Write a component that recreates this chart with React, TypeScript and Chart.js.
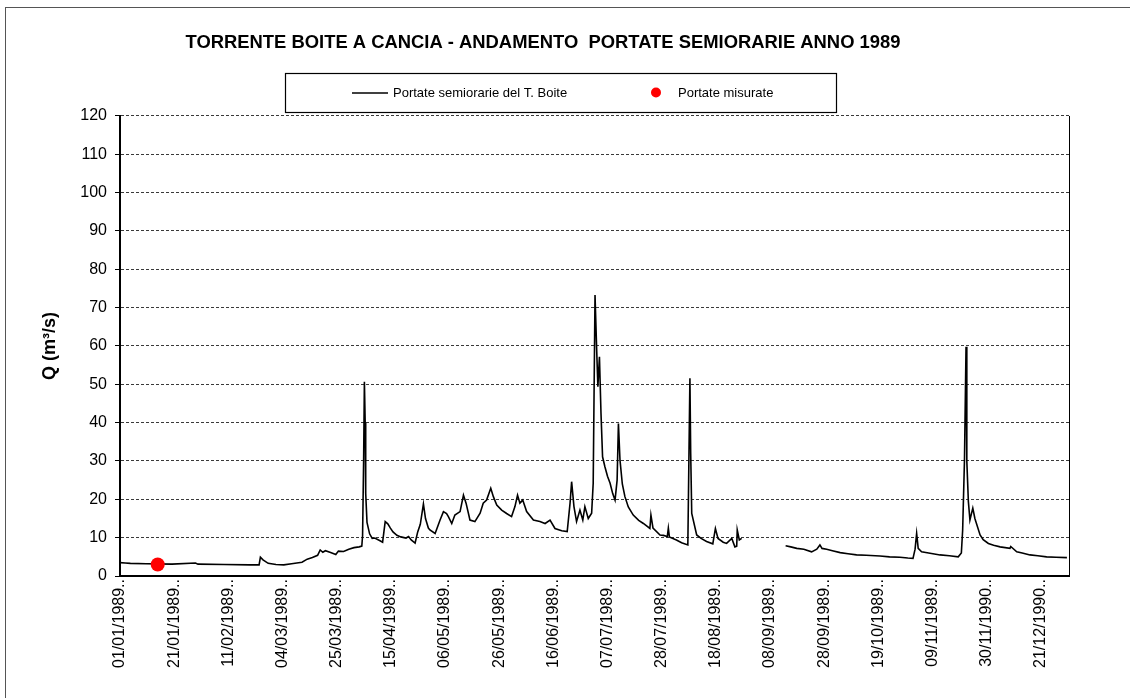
import React, { useEffect, useRef } from "react";
import { Chart, registerables } from "chart.js";

Chart.register(...registerables);

const FONT_FAMILY = "'Liberation Sans', Arial, Helvetica, sans-serif";

const CHART_TITLE = "TORRENTE BOITE A CANCIA - ANDAMENTO  PORTATE SEMIORARIE ANNO 1989";
const Y_AXIS_TITLE = "Q (m³/s)";
const FLOW_LABEL = "Portate semiorarie del T. Boite";
const MEASURED_LABEL = "Portate misurate";

// category labels shown every 1000 half-hourly readings (= 20.83 days)
const X_TICK_LABELS = [
  "01/01/1989..", "21/01/1989..", "11/02/1989..", "04/03/1989..", "25/03/1989..",
  "15/04/1989..", "06/05/1989..", "26/05/1989..", "16/06/1989..", "07/07/1989..",
  "28/07/1989..", "18/08/1989..", "08/09/1989..", "28/09/1989..", "19/10/1989..",
  "09/11/1989..", "30/11/1990..", "21/12/1990..",
];
const READINGS_PER_LABEL = 1000;
const READINGS_PER_DAY = 48;
const X_MIN_DAY = 0;
const X_MAX_DAY = 365;

const Y_MIN = 0;
const Y_MAX = 120;
const Y_STEP = 10;

// half-hourly discharge (day of year, m3/s); null = missing data
const flowDays = [
  // winter base flow
  0, 2, 4, 10, 20, 29, 30, 40, 50, 53.5,
  54, 55, 57, 60, 63, 66, 68, 70, 72, 74,
  76, 77, 78, 79, 81, 83, 84, 86, 88, 90,
  92, 93,
  // early April flood and spring
  93.3, 93.7, 94.0, 94.3, 94.5, 95, 96, 97, 98, 100,
  101, 101.5, 102, 103, 104, 105, 106.5, 108, 110, 111,
  112, 113.5, 114.5, 115.5, 116.7, 117.5, 118.6,
  // snowmelt season
  119.2, 121.2, 123.1, 124.4, 125.6, 126.3, 127.6, 128.8, 130.8, 132.1,
  133.1, 134.6, 136.5, 138.5, 139.7, 141, 142.6, 143.6, 144.9, 146.8,
  148.7, 150.6, 151.9, 152.9, 153.8, 154.9, 156.4, 159, 161.5, 163.5,
  165.4, 167.3, 169.9, 172, 173.1, 173.7, 174.6, 175.6, 176.9, 178,
  178.8, 180.1, 181.4, 182,
  // summer floods
  182.7, 183.3, 183.8, 184.4, 185, 185.6, 186.5, 187.5, 188.5, 189.5,
  190.4, 191.2, 191.7, 192.3, 193.2, 194.2, 195.5, 197.4, 199.5, 201.3,
  203.8, 204.2, 205, 207.7, 209, 210.5, 210.9, 211.3, 214, 216,
  218.4, 218.8, 219.2, 219.5, 219.9, 221.8, 223.5, 225.6, 228, 229,
  230, 232, 233.3, 235.3, 236.5, 237.2, 237.4, 238.2, 239.1,
  // missing data
  247,
  // autumn and winter
  256, 258, 260.3, 263, 266, 268, 269.2, 270, 271.8, 274,
  277, 280, 283.3, 287, 292.3, 296, 300, 303, 305, 305.8,
  306.4, 307, 308.3, 311, 315.4, 319, 322.4, 323.6, 324.1, 324.8,
  325.4, 325.7, 326.3, 326.9, 328, 328.8, 330.8, 332, 334, 336,
  338.5, 342.3, 342.6, 344.9, 347, 350, 353, 356.4, 360, 364.2,
];
const flowValues = [
  3.5, 3.4, 3.3, 3.2, 3.1, 3.4, 3.1, 3.0, 2.9, 2.9,
  4.9, 4.2, 3.3, 3.0, 2.9, 3.2, 3.4, 3.6, 4.4, 4.8,
  5.4, 6.8, 6.2, 6.6, 6.1, 5.6, 6.5, 6.4, 7.0, 7.4,
  7.6, 7.8,
  10.5, 30, 50.7, 40, 21.6, 14, 11, 9.8, 9.9, 9.2,
  8.8, 11.5, 14.2, 13.6, 12.5, 11.5, 10.6, 10.2, 9.9, 10.3,
  9.4, 8.6, 11.5, 13.5, 18.8, 15, 12.5,
  12.0, 11.1, 14.6, 16.8, 16.3, 15.5, 13.7, 15.9, 16.8, 21.1,
  19.0, 14.6, 14.2, 16.4, 19.0, 19.8, 22.9, 20.7, 18.5, 17.2,
  16.3, 15.5, 18.1, 21.1, 19.0, 19.8, 16.8, 14.6, 14.2, 13.7,
  14.6, 12.4, 11.8, 11.6, 19.0, 24.6, 18.1, 14.2, 17.2, 14.6,
  18.1, 15.0, 16.4, 24.2,
  73.3, 59.8, 49.4, 57.2, 42.4, 31.1, 28.5, 26, 24.2, 21.5,
  19.8, 25, 39.8, 30.3, 24, 20.7, 18, 15.9, 14.5, 13.7,
  12.4, 15.9, 12.5, 10.7, 10.6, 10.3, 12.5, 10.2, 9.4, 8.7,
  8.1, 30, 51.6, 32, 16.3, 10.7, 9.8, 9.0, 8.4, 12.4,
  9.8, 8.8, 8.5, 9.8, 7.6, 7.8, 12.0, 9.4, 9.8,
  null,
  7.9, 7.6, 7.2, 7.0, 6.3, 7.0, 8.1, 7.2, 7.0, 6.6,
  6.1, 5.8, 5.5, 5.4, 5.2, 5.0, 4.9, 4.7, 4.6, 7,
  11.1, 7.2, 6.3, 6.0, 5.5, 5.3, 5.0, 6.0, 12, 30.3,
  59.8, 30, 19.4, 14.6, 17.7, 15.0, 10.7, 9.5, 8.5, 8.0,
  7.6, 7.2, 7.7, 6.3, 6.0, 5.5, 5.3, 5.0, 4.9, 4.8,
];

// spot discharge measurement
const measuredDays = [14.5];
const measuredValues = [3.0];

const framePlugin = {
  id: "frameAndLegend",
  beforeDraw(chart: any) {
    const ctx = chart.ctx;
    ctx.save();
    ctx.fillStyle = "#ffffff";
    ctx.fillRect(0, 0, chart.width, chart.height);
    ctx.strokeStyle = "#555555";
    ctx.lineWidth = 1;
    ctx.strokeRect(5.5, 7.5, chart.width + 20, chart.height + 20);
    ctx.restore();
  },
  afterDraw(chart: any) {
    const ctx = chart.ctx;
    const area = chart.chartArea;
    ctx.save();
    // right border of the plot area
    ctx.strokeStyle = "#000000";
    ctx.lineWidth = 1;
    ctx.beginPath();
    ctx.moveTo(area.right + 0.5, area.top);
    ctx.lineTo(area.right + 0.5, area.bottom);
    ctx.stroke();

    // legend box
    const boxL = 285, boxT = 73, boxR = 836, boxB = 112;
    ctx.strokeStyle = "#000000";
    ctx.lineWidth = 1.2;
    ctx.strokeRect(boxL + 0.5, boxT + 0.5, boxR - boxL, boxB - boxT);
    const cy = (boxT + boxB) / 2 + 0.5;
    const ds = chart.data.datasets;
    ctx.font = `13px ${FONT_FAMILY}`;
    ctx.textBaseline = "middle";
    ctx.textAlign = "left";
    ctx.fillStyle = "#000000";
    // line sample
    ctx.strokeStyle = ds[0].borderColor;
    ctx.lineWidth = 1.5;
    ctx.beginPath();
    ctx.moveTo(352, cy);
    ctx.lineTo(388, cy);
    ctx.stroke();
    ctx.fillText(ds[0].label, 393, cy);
    // dot sample
    ctx.fillStyle = ds[1].backgroundColor;
    ctx.beginPath();
    ctx.arc(656, cy - 0.5, 5, 0, Math.PI * 2);
    ctx.fill();
    ctx.fillStyle = "#000000";
    ctx.fillText(ds[1].label, 678, cy);
    ctx.restore();
  },
};

export default function App() {
  const canvasRef = useRef<HTMLCanvasElement | null>(null);

  useEffect(() => {
    const canvas = canvasRef.current;
    if (!canvas) return;
    const flowData = flowDays.map((d, i) => ({ x: d, y: flowValues[i] }));
    const measuredData = measuredDays.map((d, i) => ({ x: d, y: measuredValues[i] }));
    const tickStep = READINGS_PER_LABEL / READINGS_PER_DAY;

    const chart = new Chart(canvas, {
      type: "line",
      data: {
        datasets: [
          {
            label: FLOW_LABEL,
            data: flowData,
            borderColor: "#000000",
            backgroundColor: "#000000",
            borderWidth: 1.6,
            pointRadius: 0,
            tension: 0,
            spanGaps: false,
            order: 2,
          },
          {
            label: MEASURED_LABEL,
            data: measuredData,
            showLine: false,
            borderColor: "#ff0000",
            backgroundColor: "#ff0000",
            pointRadius: 7,
            pointBorderWidth: 0,
            order: 1,
          },
        ],
      },
      options: {
        responsive: false,
        animation: false,
        devicePixelRatio: 1,
        layout: { padding: { left: 17, right: 61, top: 0, bottom: 0 } },
        plugins: {
          legend: { display: false },
          tooltip: { enabled: false },
          title: {
            display: true,
            text: CHART_TITLE,
            color: "#000000",
            font: { family: FONT_FAMILY, size: 18.4, weight: "bold" },
            padding: { top: 32.3, bottom: 61.6 },
          },
        },
        scales: {
          x: {
            type: "linear",
            min: X_MIN_DAY,
            max: X_MAX_DAY,
            afterBuildTicks: (axis: any) => {
              axis.ticks = X_TICK_LABELS.map((_, i) => ({ value: i * tickStep }));
            },
            afterFit: (axis: any) => {
              axis.height = 122;
            },
            grid: { display: false, drawTicks: false },
            border: { display: true, color: "#000000", width: 2 },
            ticks: {
              autoSkip: false,
              maxRotation: 90,
              minRotation: 90,
              padding: 3,
              color: "#000000",
              font: { family: FONT_FAMILY, size: 16 },
              callback: (_v: any, i: number) => X_TICK_LABELS[i],
            },
          },
          y: {
            min: Y_MIN,
            max: Y_MAX,
            afterFit: (axis: any) => {
              axis.width = 103;
            },
            grid: {
              color: "#3a3a3a",
              lineWidth: 1,
              drawTicks: true,
              tickLength: 5,
              tickColor: "#000000",
              tickWidth: 1,
              tickBorderDash: [],
            },
            border: { display: true, color: "#000000", width: 2, dash: [3, 2] },
            ticks: {
              stepSize: Y_STEP,
              padding: 8,
              color: "#000000",
              font: { family: FONT_FAMILY, size: 16 },
            },
            title: {
              display: true,
              text: Y_AXIS_TITLE,
              color: "#000000",
              font: { family: FONT_FAMILY, size: 18, weight: "bold" },
              padding: { top: 22, bottom: 0 },
            },
          },
        },
      },
      plugins: [framePlugin],
    } as any);

    return () => chart.destroy();
  }, []);

  return (
    <div style={{ position: "fixed", left: 0, top: 0, width: 1130, height: 698, background: "#ffffff" }}>
      <canvas ref={canvasRef} width={1130} height={698} style={{ display: "block" }} />
    </div>
  );
}
